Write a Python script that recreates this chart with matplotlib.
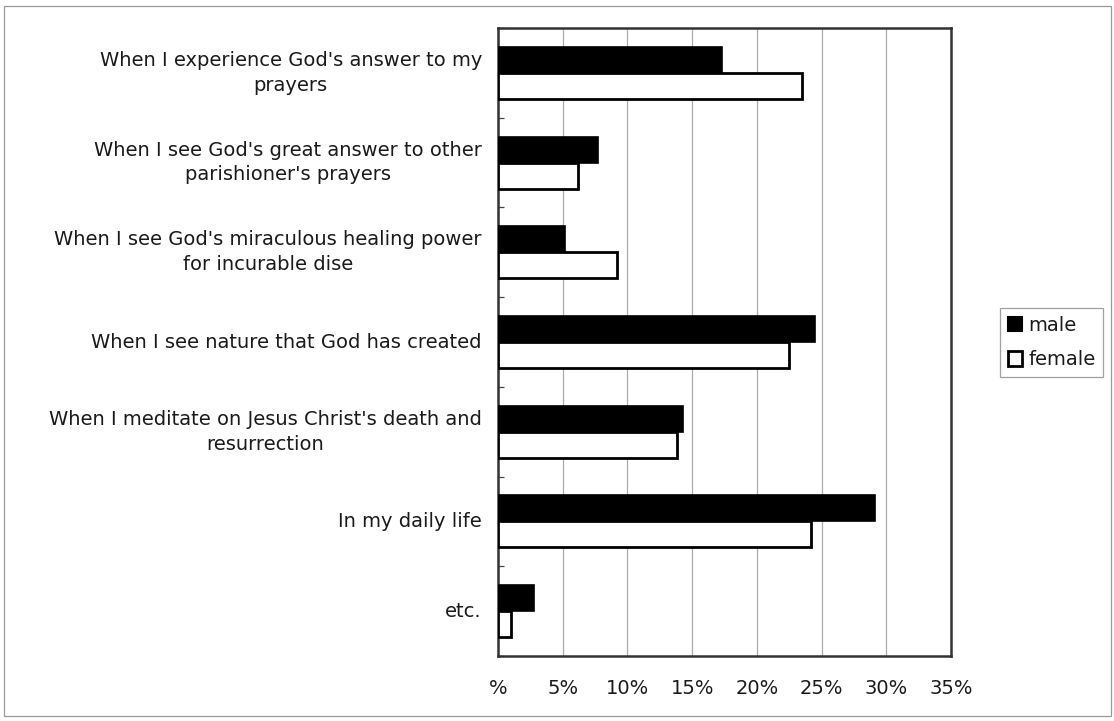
import matplotlib
matplotlib.use("Agg")
import matplotlib.pyplot as plt
from matplotlib.patches import Rectangle, Patch
import numpy as np

categories = [
    "When I experience God's answer to my\nprayers",
    "When I see God's great answer to other\nparishioner's prayers",
    "When I see God's miraculous healing power\nfor incurable dise",
    "When I see nature that God has created",
    "When I meditate on Jesus Christ's death and\nresurrection",
    "In my daily life",
    "etc.",
]
male = [17.3, 7.7, 5.2, 24.5, 14.3, 29.1, 2.8]
female = [23.5, 6.2, 9.2, 22.5, 13.8, 24.2, 1.0]
x_ticks = [0, 5, 10, 15, 20, 25, 30, 35]
x_tick_labels = ["%", "5%", "10%", "15%", "20%", "25%", "30%", "35%"]
series_names = ["male", "female"]

plt.rcParams["font.family"] = ["DejaVu Sans"]

W, H = 1114, 721
fig = plt.figure(figsize=(W / 100, H / 100), dpi=100)
fig.patch.set_facecolor("white")

# thin outer frame around the whole chart
fig.add_artist(Rectangle((4 / W, 1 - 716 / H), 1107 / W, 710 / H,
                         transform=fig.transFigure, fill=False,
                         edgecolor="#9a9a9a", linewidth=0.9))

ax = fig.add_axes([498 / W, 1 - 656 / H, (951 - 498) / W, (656 - 28) / H])

n = len(categories)
y = np.arange(n)
h = 0.29
ax.barh(y - h / 2, male, height=h, color="black", edgecolor="black",
        linewidth=1.2, zorder=3, label=series_names[0])
ax.barh(y + h / 2, female, height=h, color="white", edgecolor="black",
        linewidth=2.0, zorder=3, label=series_names[1])

ax.set_xlim(0, 35)
ax.set_ylim(n - 0.5, -0.5)
ax.set_xticks(x_ticks)
ax.set_xticklabels(x_tick_labels, fontsize=14, color="#1a1a1a")
ax.tick_params(axis="x", length=0, pad=16.5)
ax.grid(axis="x", color="#ababab", linewidth=0.9, zorder=0)

# category boundary ticks on the left axis
ax.set_yticks(np.arange(n + 1) - 0.5, minor=False)
ax.set_yticklabels([])
ax.tick_params(axis="y", direction="in", length=4, width=0.9, color="#444444")

for i, lab in enumerate(categories):
    ax.text(-16 / 12.94, i, lab, ha="right", va="center", multialignment="center",
            fontsize=14, color="#1a1a1a", linespacing=1.38,
            transform=ax.transData, clip_on=False)

for s in ax.spines.values():
    s.set_color("#333333")
    s.set_linewidth(1.8)

handles = [Patch(facecolor="black", edgecolor="black", linewidth=1.5),
           Patch(facecolor="white", edgecolor="black", linewidth=2.0)]
leg = fig.legend(handles, series_names, loc="upper left",
                 bbox_to_anchor=(1000 / W, 1 - 308 / H), fontsize=14,
                 frameon=True, fancybox=False, handlelength=0.75,
                 handleheight=0.75, handletextpad=0.3, labelspacing=0.8,
                 borderpad=0.4, borderaxespad=0)
leg.get_frame().set_edgecolor("#888888")
leg.get_frame().set_linewidth(0.9)
for t in leg.get_texts():
    t.set_color("#1a1a1a")

fig.savefig("out.png", dpi=100, facecolor="white")
